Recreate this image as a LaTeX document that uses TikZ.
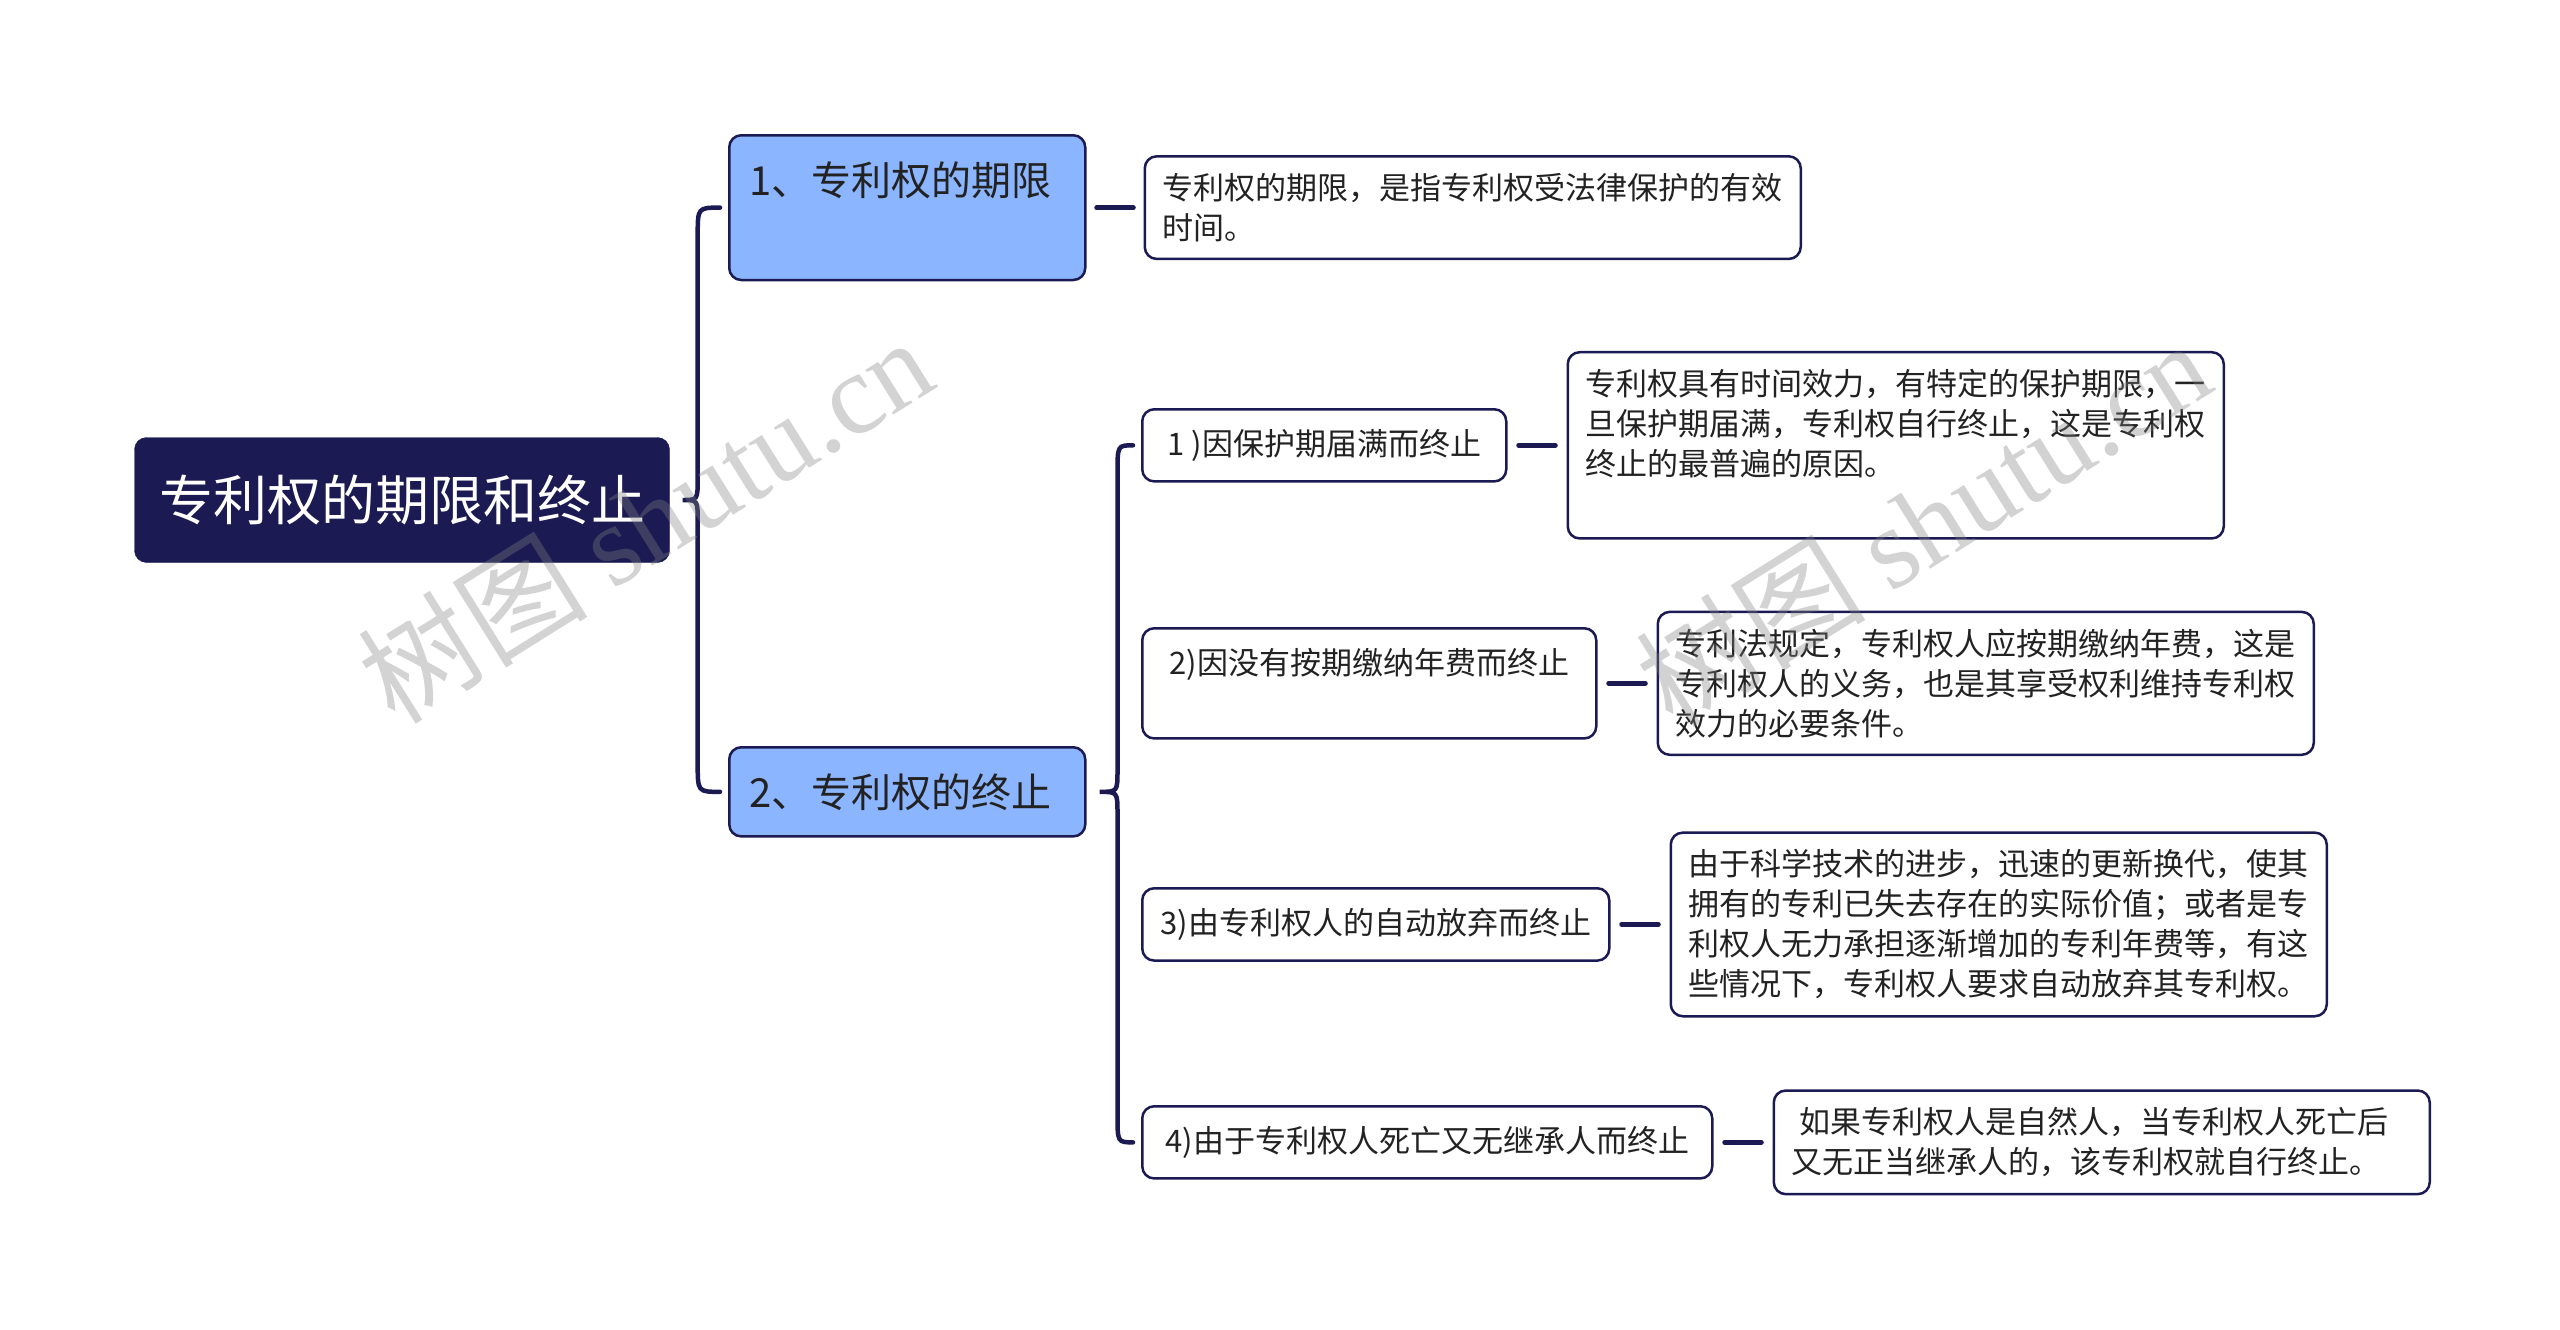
\documentclass[tikz,border=0pt]{standalone}
\usepackage{fontspec}
\setmainfont{Noto Sans CJK SC}
\newfontfamily\wmfont{Liberation Serif}
\usetikzlibrary{calc,positioning}
\definecolor{navy}{HTML}{1C1A52}
\definecolor{topicblue}{HTML}{8CB5FF}
\definecolor{inkgray}{HTML}{222222}

\begin{document}
\begin{tikzpicture}[
  x=1pt, y=-1pt,
  conn/.style={draw=navy,line width=4.5pt,line cap=round},
  rootbox/.style={draw=navy,fill=navy,text=white,rounded corners=12pt,
                  minimum width=535pt,minimum height=125pt,
                  font=\fontsize{54}{60}\selectfont},
  topic/.style={draw=navy,fill=topicblue,line width=2.5pt,rounded corners=12pt,
                text=inkgray,text width=316pt,align=left,
                inner xsep=20pt,inner ysep=26pt,
                font=\fontsize{40}{48}\selectfont},
  sub/.style={draw=navy,fill=white,line width=2.5pt,rounded corners=12pt,
              text=inkgray,inner xsep=17pt,inner ysep=20pt,minimum height=72pt,
              font=\fontsize{31}{40}\selectfont},
  leaf/.style={draw=navy,fill=white,line width=2.5pt,rounded corners=12pt,
               text=inkgray,text width=620pt,align=left,
               inner xsep=18pt,inner ysep=17pt,
               font=\fontsize{31}{40}\selectfont},
  wmark/.style={text=gray,text opacity=0.35,rotate=32,
                font=\fontsize{115}{120}\selectfont},
]
\useasboundingbox (0,0) rectangle (2560,1330);

% --- root ---
\node[rootbox] (root) at (402,500) {专利权的期限和终止};

% --- main topics ---
\node[topic,anchor=north west,text depth=59pt] (term) at (728,134)
      {1、专利权的期限};
\node[topic,anchor=north west] (end) at (728,746)
      {2、专利权的终止};

% --- brace root -> topics ---
\coordinate (tip0) at ($(root.east)+(13,0)$);
\coordinate (sp0)  at ($(root.east)+(28,0)$);
\draw[conn] ($(term.west)+(-8,0)$) .. controls (sp0 |- term.west) ..
      ($(sp0 |- term.west)+(0,28)$) -- ($(sp0)+(0,-22)$)
      .. controls (sp0) .. (tip0) .. controls (sp0) .. ($(sp0)+(0,22)$)
      -- ($(sp0 |- end.west)+(0,-28)$) .. controls (sp0 |- end.west) ..
      ($(end.west)+(-8,0)$);

% --- term detail ---
\node[leaf,right=57pt of term] (termtxt)
      {专利权的期限，是指专利权受法律保护的有效\\时间。};
\draw[conn] ($(term.east)+(10,0)$) -- ($(termtxt.west)+(-10,0)$);

% --- reasons for ending ---
\node[sub,anchor=north west,minimum width=364pt] (r1) at (1141,408)
      {1 )因保护期届满而终止};
\node[sub,anchor=north west,minimum width=454pt,text depth=44pt] (r2) at (1141,627)
      {2)因没有按期缴纳年费而终止};
\node[sub,anchor=north west,minimum width=467pt] (r3) at (1141,887)
      {3)由专利权人的自动放弃而终止};
\node[sub,anchor=north west,minimum width=570pt] (r4) at (1141,1105)
      {4)由于专利权人死亡又无继承人而终止};

% --- brace topic 2 -> reasons ---
\coordinate (tip1) at ($(end.east)+(13,0)$);
\coordinate (sp1)  at ($(end.east)+(31,0)$);
\draw[conn] ($(r1.west)+(-8,0)$) .. controls (sp1 |- r1.west) ..
      ($(sp1 |- r1.west)+(0,28)$) -- ($(sp1)+(0,-22)$)
      .. controls (sp1) .. (tip1) .. controls (sp1) .. ($(sp1)+(0,22)$)
      -- ($(sp1 |- r4.west)+(0,-28)$) .. controls (sp1 |- r4.west) ..
      ($(r4.west)+(-8,0)$);

% --- reason details ---
\node[leaf,right=59pt of r1] (d1)
      {专利权具有时间效力，有特定的保护期限，一\\旦保护期届满，专利权自行终止，这是专利权\\终止的最普遍的原因。\\[6pt]\mbox{}};
\node[leaf,right=59pt of r2] (d2)
      {专利法规定，专利权人应按期缴纳年费，这是\\专利权人的义务，也是其享受权利维持专利权\\效力的必要条件。};
\node[leaf,right=59pt of r3] (d3)
      {由于科学技术的进步，迅速的更新换代，使其\\拥有的专利已失去存在的实际价值；或者是专\\利权人无力承担逐渐增加的专利年费等，有这\\些情况下，专利权人要求自动放弃其专利权。};
\node[leaf,right=59pt of r4] (d4)
      {\hspace{8pt}如果专利权人是自然人，当专利权人死亡后\\又无正当继承人的，该专利权就自行终止。};

\draw[conn] ($(r1.east)+(11,0)$) -- ($(d1.west)+(-11,0)$);
\draw[conn] ($(r2.east)+(11,0)$) -- ($(d2.west)+(-11,0)$);
\draw[conn] ($(r3.east)+(11,0)$) -- ($(d3.west)+(-11,0)$);
\draw[conn] ($(r4.east)+(11,0)$) -- ($(d4.west)+(-11,0)$);

% --- watermarks ---
\node[wmark] (wm1) at (645,519) {树图 {\wmfont shutu.cn}};
\node[wmark] (wm2) at (1923,522) {树图 {\wmfont shutu.cn}};

\end{tikzpicture}
\end{document}
